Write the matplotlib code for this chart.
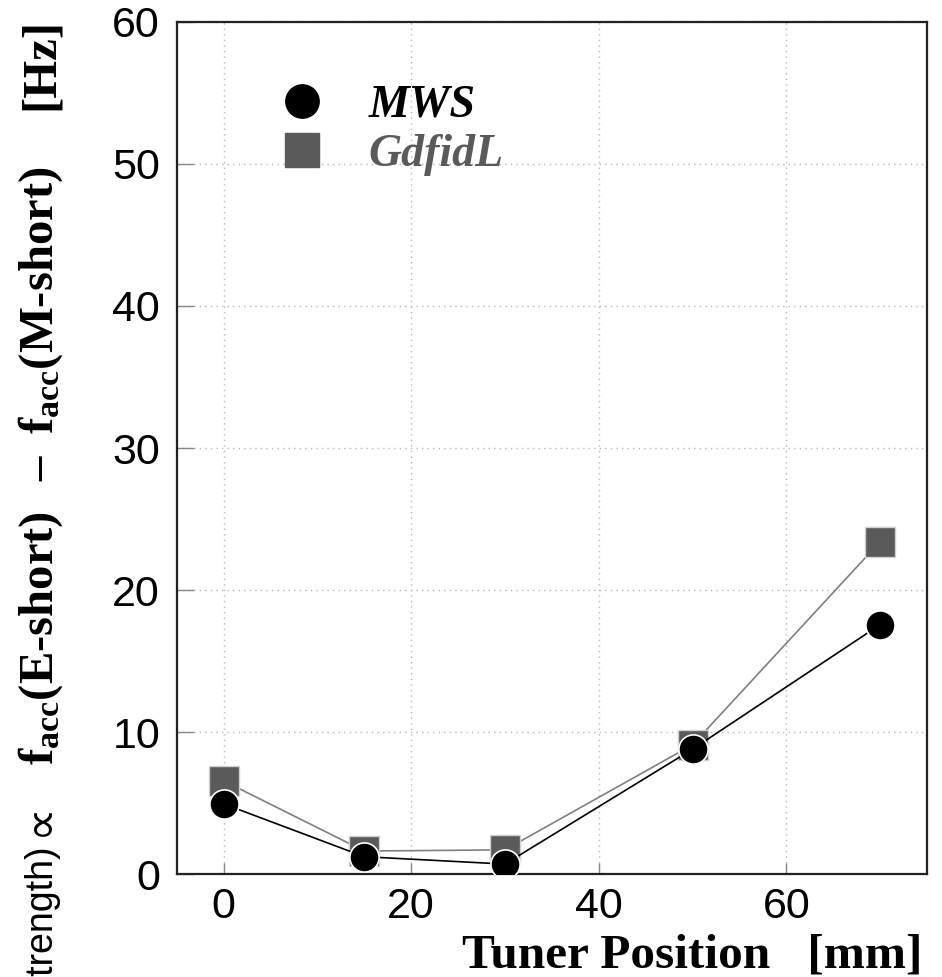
import matplotlib
matplotlib.use("Agg")
import matplotlib.pyplot as plt
from matplotlib.lines import Line2D

# tuner position [mm]
tuner_pos = [0, 15, 30, 50, 70]
# f_acc(E-short) - f_acc(M-short) [Hz]
mws = [4.94, 1.22, 0.70, 8.79, 17.56]
gdfidl = [6.56, 1.62, 1.70, 9.10, 23.40]

x_ticks = [0, 20, 40, 60]
y_ticks = [0, 10, 20, 30, 40, 50, 60]

plt.rcParams['mathtext.fontset'] = 'custom'
plt.rcParams['mathtext.rm'] = 'Liberation Serif:bold'
plt.rcParams['mathtext.bf'] = 'Liberation Serif:bold'
plt.rcParams['mathtext.it'] = 'Liberation Serif:bold:italic'

SQ_COL = "#5a5a5a"
W, H = 942, 977

fig = plt.figure(figsize=(W / 100, H / 100), dpi=100)
ax = fig.add_axes([0.1876, 0.1054, 0.7965, 0.8721])

ax.plot(tuner_pos, gdfidl, color="#808080", lw=1.2, marker="s", ms=21,
        mfc=SQ_COL, mec="#d0d0d0", mew=1.0, zorder=3)
ax.plot(tuner_pos, mws, color="black", lw=1.2, marker="o", ms=21,
        mfc="black", mec="white", mew=1.2, zorder=4)

ax.set_xlim(-5, 75)
ax.set_ylim(0, 60)
ax.set_xticks(x_ticks)
ax.set_yticks(y_ticks)
ax.grid(True, color="#b8b8b8", linestyle=(0, (1, 3)), lw=1.0)
ax.set_axisbelow(True)

for lab in ax.get_xticklabels() + ax.get_yticklabels():
    lab.set_fontfamily("Liberation Sans")
    lab.set_fontsize(31)
ax.tick_params(axis="x", direction="in", length=8, width=1, color="#888888", pad=9)
ax.tick_params(axis="y", direction="in", length=12, width=1, color="#888888", pad=12)
for sp in ax.spines.values():
    sp.set_linewidth(1.6)
    sp.set_color("#222222")

# x label, bold serif, right aligned
fig.text(0.979, 0.010, "Tuner Position   [mm]", fontfamily="Liberation Serif",
         fontweight="bold", fontsize=35.5, ha="right", va="baseline")

# y label: pieces laid along a common baseline (x = 53 px), reading upward
ylab = dict(fontfamily="Liberation Serif", fontweight="bold", fontsize=35,
            rotation=90, rotation_mode="anchor", va="baseline")
base_x = 53 / W
fig.text(base_x, (H - 765) / H, "f$_{\\mathbf{acc}}$(E-short)", ha="left", **ylab)
fig.text(base_x, (H - 481) / H, "\u2013", ha="left", **ylab)
fig.text(base_x, (H - 434) / H, "f$_{\\mathbf{acc}}$(M-short)", ha="left", **ylab)
fig.text(base_x, (H - 18) / H, "[Hz]", ha="right", **ylab)
# sans prefix, clipped by the bottom edge as in the source figure
sans = dict(rotation=90, rotation_mode="anchor", ha="right", va="baseline")
fig.text(base_x, (H - 802) / H, "\u221d",
         fontfamily=["DejaVu Sans"], fontsize=34, **sans)
fig.text(base_x, (H - 846) / H, "(Field strength)",
         fontfamily=["Liberation Sans", "DejaVu Sans"], fontsize=27, **sans)

# legend
handles = [
    Line2D([], [], ls="none", marker="o", ms=24, mfc="black", mec="black"),
    Line2D([], [], ls="none", marker="s", ms=24, mfc=SQ_COL, mec=SQ_COL),
]
leg = ax.legend(handles, ["MWS", "GdfidL"], loc="upper left",
                bbox_to_anchor=(0.075, 0.975), frameon=False,
                prop={"family": "Liberation Serif", "weight": "bold",
                      "style": "italic", "size": 33},
                handletextpad=0.85, labelspacing=0.15, handlelength=1.2)
leg.get_texts()[1].set_color(SQ_COL)

fig.savefig("out.png", dpi=100)
